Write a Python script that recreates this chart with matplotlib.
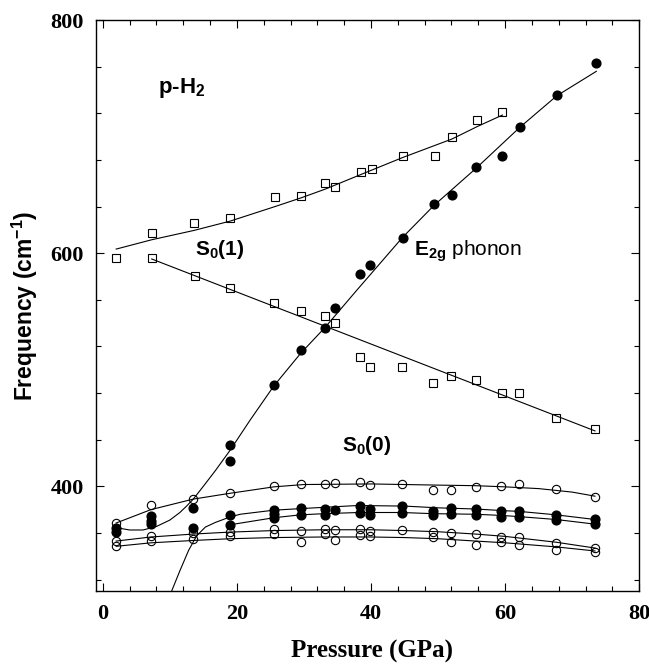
import matplotlib
matplotlib.use('Agg')
import matplotlib.pyplot as plt
from matplotlib.ticker import MultipleLocator

plt.rcParams['font.family'] = 'Liberation Sans'
plt.rcParams['mathtext.fontset'] = 'custom'
plt.rcParams['mathtext.rm'] = 'Liberation Sans'
plt.rcParams['mathtext.bf'] = 'Liberation Sans:bold'
plt.rcParams['mathtext.default'] = 'regular'

# S0(1) - squares, upper and lower branches
s1_hi_p = [2.0, 7.3, 13.6, 19.0, 25.7, 29.6, 33.2, 34.7, 38.5, 40.1, 44.7, 49.5, 52.1, 55.8, 59.6]
s1_hi_f = [596, 617, 625.5, 630, 648, 649, 660.5, 657, 670, 672.5, 683, 683, 699.5, 714.5, 721.5]
s1_lo_p = [7.3, 13.7, 18.9, 25.6, 29.5, 33.1, 34.7, 38.3, 39.8, 44.6, 49.3, 52.0, 55.6, 59.5, 62.0, 67.6, 73.4]
s1_lo_f = [595.5, 580, 570, 557, 550, 546, 540, 510.5, 502.5, 502.5, 488.5, 494.5, 491.5, 480, 480, 459, 449]

# E2g phonon - filled circles
e2g_p = [19.0, 19.0, 25.5, 29.5, 33.1, 34.7, 38.3, 39.9, 44.7, 49.4, 52.1, 55.7, 59.6, 62.2, 67.7, 73.6]
e2g_f = [435.5, 421.5, 487, 517, 536, 553, 582, 590, 613, 642, 650, 674, 683, 708, 736, 763]

# S0(0) - filled circles near 370-380
s0_fill_p = [2, 2, 7.2, 7.2, 7.2, 13.5, 13.5, 19, 19, 25.5, 25.5, 25.5, 29.5, 29.5, 33.1, 33.1,
             34.6, 38.3, 38.3, 39.8, 39.8, 44.6, 44.6, 49.2, 49.2, 51.9, 51.9, 55.6, 55.6,
             59.4, 59.4, 62, 62, 67.6, 67.6, 73.4, 73.4]
s0_fill_f = [364.5, 360.5, 374.5, 370.5, 368, 381, 364.5, 375, 367, 380, 376.5, 372.5, 381, 375.5,
             380.5, 375, 379.5, 383, 377.5, 380.5, 375.5, 383, 377, 379, 375, 381, 376.5, 380.5,
             375.5, 378.5, 374, 379, 374, 375.5, 371, 372, 368]

# S0(0) - open circles
s0_top_p = [2, 7.2, 13.5, 19, 25.5, 29.5, 33.1, 34.6, 38.3, 39.8, 44.6, 49.2, 51.9, 55.6, 59.4, 62, 67.6, 73.4]
s0_top_f = [368.5, 384, 389, 394.5, 400.5, 402, 402, 402.5, 404, 401.5, 402, 397, 397, 399.5, 400, 402, 397.5, 391]
s0_mid_p = [2, 7.2, 13.5, 19, 25.5, 29.5, 33.1, 34.6, 38.3, 39.8, 44.6, 49.2, 51.9, 55.6, 59.4, 62, 67.6, 73.4]
s0_mid_f = [353, 357, 359.5, 360.5, 363.5, 362, 363.5, 362.5, 363.5, 362, 362.5, 360.5, 360, 359, 356.5, 356.5, 351.5, 347]
s0_low_p = [2, 7.2, 13.5, 19, 25.5, 29.5, 33.1, 34.6, 38.3, 39.8, 49.2, 51.9, 55.6, 59.4, 62, 67.6, 73.4]
s0_low_f = [348.5, 353, 354.5, 357, 359, 352, 359, 353.5, 358, 357.5, 356.5, 352.5, 350, 352, 350, 345, 344]

# fitted curves
fit_s1_hi_p = [2, 7.3, 13.6, 19, 25.7, 29.6, 33.2, 38.5, 44.7, 52.1, 55.8, 59.6]
fit_s1_hi_f = [603.5, 611.5, 619.5, 627.5, 640, 647.5, 655, 667.5, 682, 698, 708.5, 718.5]
fit_s1_lo_p = [7.3, 73.4]
fit_s1_lo_f = [595, 447.5]
fit_e2g_p = [2, 4, 6, 8, 10, 11.5, 12.5, 13.5, 15, 16.8, 19, 22, 25.5, 29.5, 33.1, 38, 44.7, 49.4, 55.7, 62.2, 67.7, 73.6]
fit_e2g_f = [364.5, 362.5, 362.5, 365.5, 371, 377.5, 383, 389, 400, 413.5, 431, 457, 486, 514, 536, 569, 613.5, 641, 673, 708, 735, 756]
fit_fa_p = [9.9, 10.3, 11.5, 12.8, 14.0, 15.3, 16.8, 18.9, 20.5, 25.5, 30, 38, 45, 50, 55.6, 60, 62, 67.6, 73.4]
fit_fa_f = [304, 310.5, 327.5, 345, 357.5, 365, 369, 373.5, 376, 379.5, 381, 383.5, 383, 381.5, 380.5, 379, 378.5, 375.5, 371.5]
fit_fb_p = [19, 25.5, 29.5, 33, 38.2, 44.6, 49.2, 55.6, 59.4, 62, 67.6, 73.4]
fit_fb_f = [367, 373, 375.5, 376.5, 377.5, 377.5, 376.5, 376, 375, 374, 371.5, 367.5]
fit_top_p = [2, 7.2, 13.5, 19, 25.5, 30, 40, 50, 55.6, 60, 65, 70, 73.4]
fit_top_f = [368.5, 380, 389, 394, 399.5, 401.5, 402, 401, 400.5, 399.5, 398, 395, 391.5]
fit_ol_p = [2, 7.2, 13.5, 19, 25.5, 33, 40, 45, 50, 55.6, 60, 67.6, 73.4]
fit_mid_f = [353, 356.5, 359, 360.7, 362, 362.7, 362.7, 362, 361, 359, 357, 352, 347]
fit_low_f = [348.5, 351.5, 353.5, 355, 356, 356.5, 356.5, 356, 355, 353, 351.5, 348, 344.5]

fig = plt.figure(figsize=(6.49, 6.68), dpi=100)
ax = fig.add_axes([0.148, 0.115, 0.837, 0.855])

# fit lines
for xs, ys in [(fit_s1_hi_p, fit_s1_hi_f), (fit_s1_lo_p, fit_s1_lo_f), (fit_e2g_p, fit_e2g_f),
               (fit_fa_p, fit_fa_f), (fit_fb_p, fit_fb_f), (fit_top_p, fit_top_f),
               (fit_ol_p, fit_mid_f), (fit_ol_p, fit_low_f)]:
    ax.plot(xs, ys, color='black', lw=0.8, zorder=2)

# data points
sq = dict(ls='none', marker='s', ms=5.2, mfc='none', mec='black', mew=0.8, zorder=3)
oc = dict(ls='none', marker='o', ms=6, mfc='none', mec='black', mew=0.8, zorder=3)
fc = dict(ls='none', marker='o', ms=6.3, mfc='black', mec='black', zorder=3)
ax.plot(s1_hi_p, s1_hi_f, **sq)
ax.plot(s1_lo_p, s1_lo_f, **sq)
ax.plot(e2g_p, e2g_f, **fc)
ax.plot(s0_fill_p, s0_fill_f, **fc)
ax.plot(s0_top_p, s0_top_f, **oc)
ax.plot(s0_mid_p, s0_mid_f, **oc)
ax.plot(s0_low_p, s0_low_f, **oc)

# labels inside the plot
ax.text(8.2, 737, 'p-H$_2$', fontsize=16, fontweight='bold')
ax.text(13.8, 598, 'S$_0$(1)', fontsize=15, fontweight='bold')
ax.text(46.4, 598, r'$\mathbf{E_{2g}}$ phonon', fontsize=15)
ax.text(35.7, 430, 'S$_0$(0)', fontsize=15, fontweight='bold')

ax.set_xlim(-1, 80)
ax.set_ylim(310, 800)
ax.xaxis.set_major_locator(MultipleLocator(20))
ax.xaxis.set_minor_locator(MultipleLocator(4))
ax.yaxis.set_major_locator(MultipleLocator(200))
ax.yaxis.set_minor_locator(MultipleLocator(40))
ax.tick_params(which='both', direction='in', top=True, right=True, width=0.8)
ax.tick_params(which='major', length=6, pad=9)
ax.tick_params(which='minor', length=3.5)
for lab in ax.get_xticklabels() + ax.get_yticklabels():
    lab.set_fontfamily('Liberation Serif')
    lab.set_fontweight('bold')
    lab.set_fontsize(16)
for sp in ax.spines.values():
    sp.set_linewidth(1.0)

ax.set_xlabel('Pressure (GPa)', fontfamily='Liberation Serif', fontweight='bold', fontsize=18)
ax.set_ylabel('Frequency (cm$^{-1}$)', fontweight='bold', fontsize=16.5)
ax.xaxis.set_label_coords(0.508, -0.085)
ax.yaxis.set_label_coords(-0.104, 0.5)

fig.savefig('out.png', dpi=100)
